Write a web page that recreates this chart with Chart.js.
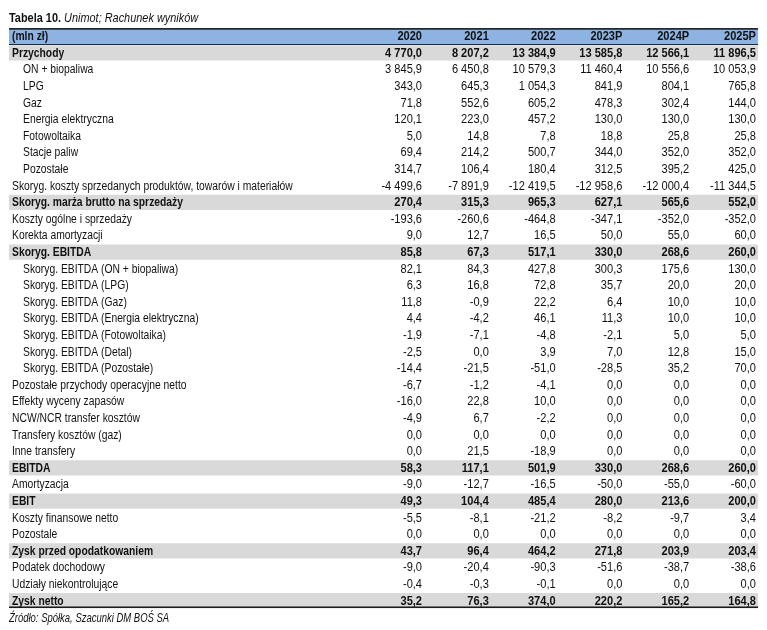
<!DOCTYPE html>
<html lang="pl">
<head>
<meta charset="utf-8">
<script src="https://cdn.jsdelivr.net/npm/chart.js@4.4.1/dist/chart.umd.min.js"></script>
<style>
  html, body { margin: 0; padding: 0; background: #fff; }
  #wrap { position: relative; width: 767px; height: 630px; }
  #chart { position: absolute; left: 0; top: 0; }
  .txt { position: absolute; left: 9px; font-family: "Liberation Sans", Arial, sans-serif; color: #111; white-space: nowrap; transform-origin: 0 50%; line-height: 15px; }
  #title { top: 10px; font-size: 13px; transform: scaleX(0.84); }
  #title b { font-weight: bold; }
  #title i { font-style: italic; }
  #source { top: 611px; font-size: 12px; font-style: italic; transform: scaleX(0.79); }
</style>
</head>
<body>
<div id="wrap">
  <canvas id="chart" width="767" height="630"></canvas>
  <div id="title" class="txt"><b>Tabela 10.</b> <i>Unimot; Rachunek wyników</i></div>
  <div id="source" class="txt">Źródło: Spółka, Szacunki DM BOŚ SA</div>
</div>
<script>
// ---- DATA ----
const headerLabel = "(mln zł)";
const years = ["2020", "2021", "2022", "2023P", "2024P", "2025P"];
const rowLabels = [
  "Przychody",
  "ON + biopaliwa",
  "LPG",
  "Gaz",
  "Energia elektryczna",
  "Fotowoltaika",
  "Stacje paliw",
  "Pozostałe",
  "Skoryg. koszty sprzedanych produktów, towarów i materiałów",
  "Skoryg. marża brutto na sprzedaży",
  "Koszty ogólne i sprzedaży",
  "Korekta amortyzacji",
  "Skoryg. EBITDA",
  "Skoryg. EBITDA (ON + biopaliwa)",
  "Skoryg. EBITDA (LPG)",
  "Skoryg. EBITDA (Gaz)",
  "Skoryg. EBITDA (Energia elektryczna)",
  "Skoryg. EBITDA (Fotowoltaika)",
  "Skoryg. EBITDA (Detal)",
  "Skoryg. EBITDA (Pozostałe)",
  "Pozostałe przychody operacyjne netto",
  "Effekty wyceny zapasów",
  "NCW/NCR transfer kosztów",
  "Transfery kosztów (gaz)",
  "Inne transfery",
  "EBITDA",
  "Amortyzacja",
  "EBIT",
  "Koszty finansowe netto",
  "Pozostale",
  "Zysk przed opodatkowaniem",
  "Podatek dochodowy",
  "Udziały niekontrolujące",
  "Zysk netto"
];
const boldRows = [0, 9, 12, 25, 27, 30, 33];
const indentRows = [1, 2, 3, 4, 5, 6, 7, 13, 14, 15, 16, 17, 18, 19];

const v2020 = [4770.0, 3845.9, 343.0, 71.8, 120.1, 5.0, 69.4, 314.7, -4499.6, 270.4, -193.6, 9.0, 85.8, 82.1, 6.3, 11.8, 4.4, -1.9, -2.5, -14.4, -6.7, -16.0, -4.9, 0.0, 0.0, 58.3, -9.0, 49.3, -5.5, 0.0, 43.7, -9.0, -0.4, 35.2];
const v2021 = [8207.2, 6450.8, 645.3, 552.6, 223.0, 14.8, 214.2, 106.4, -7891.9, 315.3, -260.6, 12.7, 67.3, 84.3, 16.8, -0.9, -4.2, -7.1, 0.0, -21.5, -1.2, 22.8, 6.7, 0.0, 21.5, 117.1, -12.7, 104.4, -8.1, 0.0, 96.4, -20.4, -0.3, 76.3];
const v2022 = [13384.9, 10579.3, 1054.3, 605.2, 457.2, 7.8, 500.7, 180.4, -12419.5, 965.3, -464.8, 16.5, 517.1, 427.8, 72.8, 22.2, 46.1, -4.8, 3.9, -51.0, -4.1, 10.0, -2.2, 0.0, -18.9, 501.9, -16.5, 485.4, -21.2, 0.0, 464.2, -90.3, -0.1, 374.0];
const v2023P = [13585.8, 11460.4, 841.9, 478.3, 130.0, 18.8, 344.0, 312.5, -12958.6, 627.1, -347.1, 50.0, 330.0, 300.3, 35.7, 6.4, 11.3, -2.1, 7.0, -28.5, 0.0, 0.0, 0.0, 0.0, 0.0, 330.0, -50.0, 280.0, -8.2, 0.0, 271.8, -51.6, 0.0, 220.2];
const v2024P = [12566.1, 10556.6, 804.1, 302.4, 130.0, 25.8, 352.0, 395.2, -12000.4, 565.6, -352.0, 55.0, 268.6, 175.6, 20.0, 10.0, 10.0, 5.0, 12.8, 35.2, 0.0, 0.0, 0.0, 0.0, 0.0, 268.6, -55.0, 213.6, -9.7, 0.0, 203.9, -38.7, 0.0, 165.2];
const v2025P = [11896.5, 10053.9, 765.8, 144.0, 130.0, 25.8, 352.0, 425.0, -11344.5, 552.0, -352.0, 60.0, 260.0, 130.0, 20.0, 10.0, 10.0, 5.0, 15.0, 70.0, 0.0, 0.0, 0.0, 0.0, 0.0, 260.0, -60.0, 200.0, 3.4, 0.0, 203.4, -38.6, 0.0, 164.8];
const columns = [v2020, v2021, v2022, v2023P, v2024P, v2025P];

// ---- LAYOUT (column units: year columns right-aligned at 1..6) ----
const xMin = -5.183, xMax = 6.03;
const labelX = -5.138, indentX = -4.973;
const FONT = '"Liberation Sans", Arial, sans-serif';
const FONT_PX = 12.5;
const LABEL_SQUEEZE = 0.826, NUMBER_SQUEEZE = 0.885;

function fmt(v) {
  const neg = v < 0;
  const s = Math.abs(v).toFixed(1);
  let [i, d] = s.split('.');
  i = i.replace(/\B(?=(\d{3})+(?!\d))/g, ' ');
  return (neg ? '-' : '') + i + ',' + d;
}

function squeezedText(ctx, text, x, y, sx, align) {
  ctx.save();
  ctx.translate(x, y);
  ctx.scale(sx, 1);
  ctx.textAlign = align;
  ctx.fillText(text, 0, 0);
  ctx.restore();
}

const categories = [headerLabel].concat(rowLabels);
const headerBand = categories.map((c, k) => k === 0 ? [xMin, xMax] : null);
const greyBand = categories.map((c, k) => boldRows.includes(k - 1) ? [xMin, xMax] : null);
const lastIdx = categories.length - 1;

const tableText = {
  id: 'tableText',
  afterDatasetsDraw(chart) {
    const ctx = chart.ctx, xs = chart.scales.x, ys = chart.scales.y;
    ctx.save();
    ctx.fillStyle = '#111';
    ctx.textBaseline = 'middle';
    // header
    let y = ys.getPixelForValue(0) + 0.5;
    ctx.font = 'bold ' + FONT_PX + 'px ' + FONT;
    squeezedText(ctx, headerLabel, xs.getPixelForValue(labelX), y, LABEL_SQUEEZE, 'left');
    years.forEach((yr, c) => squeezedText(ctx, yr, xs.getPixelForValue(c + 1), y, NUMBER_SQUEEZE, 'right'));
    // rows
    rowLabels.forEach((lab, r) => {
      const py = ys.getPixelForValue(r + 1) + 0.5;
      const bold = boldRows.includes(r);
      ctx.font = (bold ? 'bold ' : '') + FONT_PX + 'px ' + FONT;
      squeezedText(ctx, lab, xs.getPixelForValue(indentRows.includes(r) ? indentX : labelX), py, LABEL_SQUEEZE, 'left');
      columns.forEach((col, c) => squeezedText(ctx, fmt(col[r]), xs.getPixelForValue(c + 1), py, NUMBER_SQUEEZE, 'right'));
    });
    ctx.restore();
  }
};

new Chart(document.getElementById('chart'), {
  type: 'bar',
  data: {
    labels: categories,
    datasets: [
      {
        data: headerBand,
        backgroundColor: '#8db3e2',
        borderColor: '#1f2a33',
        borderWidth: { top: 2, bottom: 1, left: 0, right: 0 },
        borderSkipped: false,
        barPercentage: 1,
        categoryPercentage: 1,
        grouped: false
      },
      {
        data: greyBand,
        backgroundColor: '#d9d9d9',
        borderColor: '#1a1a1a',
        borderWidth: (ctx) => ctx.dataIndex === lastIdx ? { top: 0, bottom: 2, left: 0, right: 0 } : 0,
        borderSkipped: false,
        barPercentage: 0.92,
        categoryPercentage: 1,
        grouped: false
      }
    ]
  },
  options: {
    indexAxis: 'y',
    responsive: false,
    animation: false,
    events: [],
    layout: { padding: { left: 9, right: 9, top: 28, bottom: 21 } },
    plugins: { legend: { display: false }, tooltip: { enabled: false }, title: { display: false } },
    scales: {
      x: { type: 'linear', min: xMin, max: xMax, display: false },
      y: { type: 'category', display: false, offset: true }
    }
  },
  plugins: [tableText]
});
</script>
</body>
</html>
